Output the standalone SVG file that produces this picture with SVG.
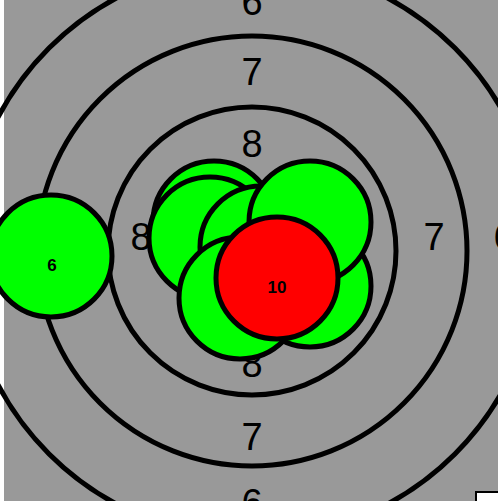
<svg xmlns="http://www.w3.org/2000/svg" width="498" height="501" viewBox="0 0 498 501">
<style>
.ring{fill:none;stroke:#000;stroke-width:5}
.lbl{font-family:"Liberation Sans",Arial,sans-serif;font-size:38px;fill:#000;text-anchor:middle}
.shot{stroke:#000;stroke-width:5}
.g{fill:#00ff00}
.r{fill:#ff0000}
.sl{font-family:"Liberation Sans",Arial,sans-serif;font-size:17px;font-weight:bold;fill:#000;text-anchor:middle}
</style>
<rect x="0" y="0" width="498" height="501" fill="#fff"/>
<rect x="4" y="0" width="494" height="501" fill="#999999"/>
<g id="target">
<circle class="ring" cx="252" cy="251" r="287"/>
<circle class="ring" cx="252" cy="251" r="215"/>
<circle class="ring" cx="252" cy="251" r="144"/>
<text class="lbl" x="252" y="15">6</text>
<text class="lbl" x="252" y="85">7</text>
<text class="lbl" x="252" y="157">8</text>
<text class="lbl" x="252" y="377">8</text>
<text class="lbl" x="252" y="450">7</text>
<text class="lbl" x="252" y="516">6</text>
<text class="lbl" x="141" y="250">8</text>
<text class="lbl" x="434" y="250">7</text>
<text class="lbl" x="504" y="250">6</text>
</g>
<g id="shot-6">
<circle class="shot g" cx="51" cy="256" r="61"/>
<text class="sl" x="52" y="271">6</text>
</g>
<g id="shot-a"><circle class="shot g" cx="214" cy="222" r="61"/></g>
<g id="shot-b"><circle class="shot g" cx="210" cy="238" r="61"/></g>
<g id="shot-c"><circle class="shot g" cx="261" cy="247" r="61"/></g>
<g id="shot-d"><circle class="shot g" cx="310" cy="286" r="61"/></g>
<g id="shot-e"><circle class="shot g" cx="310" cy="222" r="61"/></g>
<g id="shot-f"><circle class="shot g" cx="240" cy="298" r="61"/></g>
<g id="shot-10">
<circle class="shot r" cx="277" cy="278" r="61"/>
<text class="sl" x="277" y="293">10</text>
</g>
<g id="connectors"></g>
<rect x="476" y="492" width="40" height="40" fill="#fff" stroke="#000" stroke-width="2"/>
</svg>
